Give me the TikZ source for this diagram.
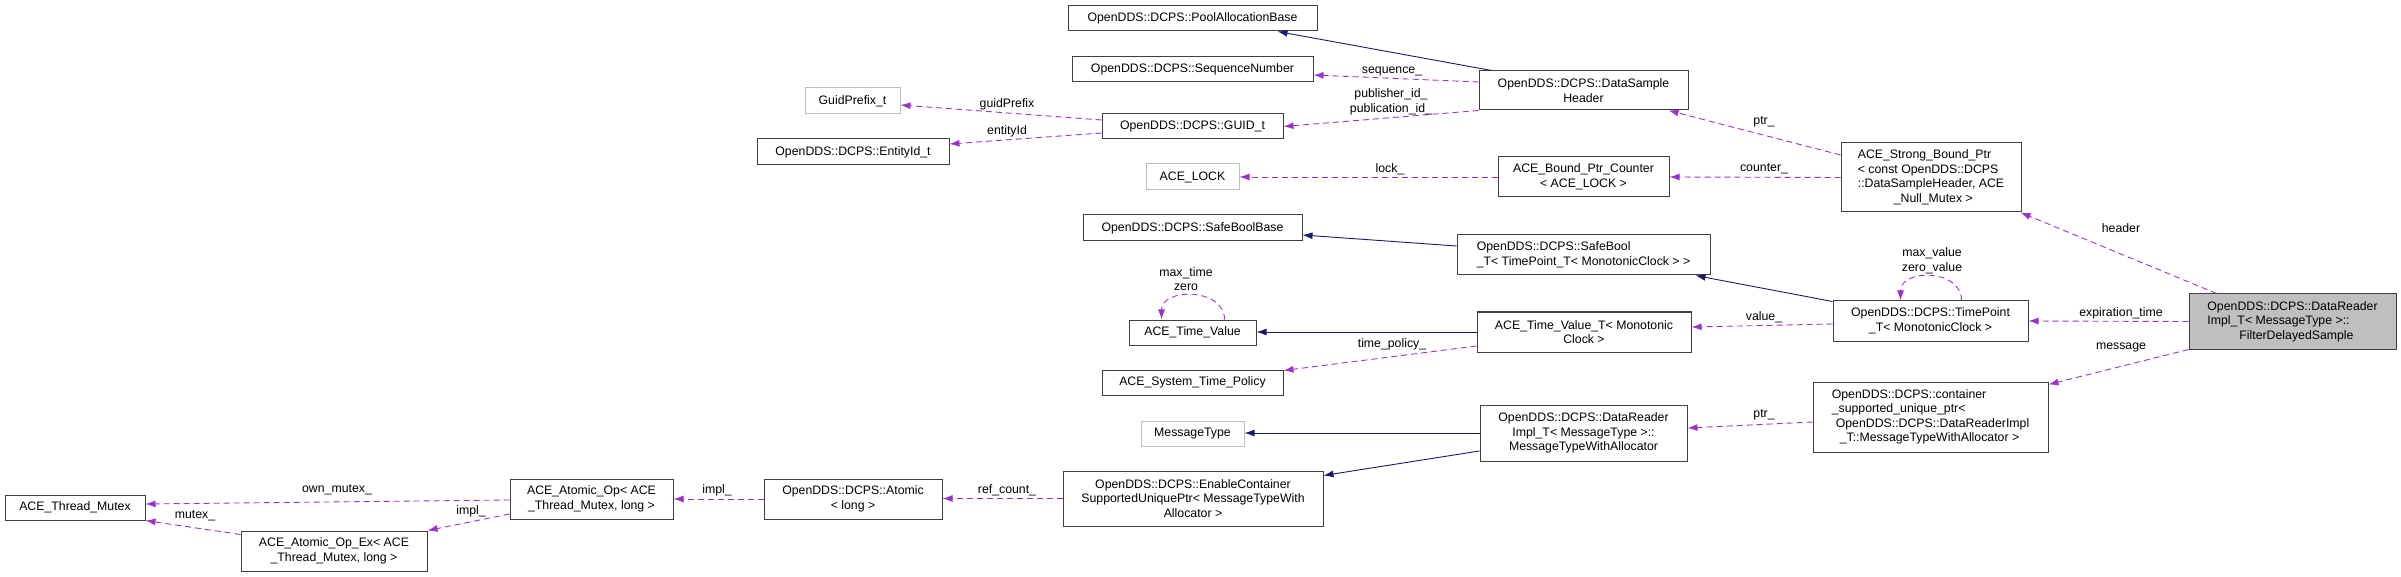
\documentclass[tikz,border=0pt]{standalone}
\usepackage{fontspec}
\setmainfont{Liberation Sans}
\usetikzlibrary{arrows.meta}
\definecolor{edgeP}{HTML}{9A32CD}
\definecolor{edgeN}{HTML}{191970}
\definecolor{bord}{HTML}{404040}
\definecolor{gbord}{HTML}{BFBFBF}
\begin{document}
\begin{tikzpicture}[x=1pt,y=-1pt,
  font=\fontsize{12.3}{14.5}\selectfont,
  box/.style={draw=bord,line width=1pt,inner sep=0pt,align=center,fill=white},
  gbox/.style={box,draw=gbord},
  lbl/.style={inner sep=0pt,align=center},
  inh/.style={draw=edgeN,line width=0.9pt,-{Latex[length=10pt,width=7pt]}},
  use/.style={draw=edgeP,line width=0.9pt,dash pattern=on 6pt off 4pt,-{Latex[length=10pt,width=7pt]}}]
\useasboundingbox (0,0) rectangle (2401,577);
\newcommand{\bx}[7][box]{\node[#1,minimum width=#4-#3,minimum height=#6-#5] (#2) at ({(#3+#4)/2},{(#5+#6)/2}) {#7};}
\bx{pool}{1068}{1317}{6}{31}{OpenDDS::DCPS::PoolAllocationBase}
\bx{seq}{1072}{1313}{57}{82}{OpenDDS::DCPS::SequenceNumber}
\bx[gbox]{guidp}{805}{900}{88}{114}{GuidPrefix\_t}
\bx{guid}{1102}{1283}{114}{139}{OpenDDS::DCPS::GUID\_t}
\bx{entity}{757}{949}{139}{165}{OpenDDS::DCPS::EntityId\_t}
\bx[gbox]{lock}{1146}{1239}{164}{190}{ACE\_LOCK}
\bx{sbb}{1083}{1302}{215}{241}{OpenDDS::DCPS::SafeBoolBase}
\bx{tv}{1129}{1256}{320}{345}{ACE\_Time\_Value}
\bx{stp}{1102}{1283}{370}{395}{ACE\_System\_Time\_Policy}
\bx[gbox]{mt}{1141}{1244}{421}{446}{MessageType}
\bx{tm}{5}{145}{495}{520}{ACE\_Thread\_Mutex}
\bx{aop}{510}{673}{479}{519}{ACE\_Atomic\_Op< ACE\\\_Thread\_Mutex, long >}
\bx{aopex}{241}{427}{531}{571}{ACE\_Atomic\_Op\_Ex< ACE\\\_Thread\_Mutex, long >}
\bx{atomic}{764}{942}{479}{519}{OpenDDS::DCPS::Atomic\\< long >}
\bx{ecs}{1063}{1323}{471}{526}{OpenDDS::DCPS::EnableContainer\\SupportedUniquePtr< MessageTypeWith\\Allocator >}
\bx{dsh}{1479}{1688}{71}{110}{OpenDDS::DCPS::DataSample\\Header}
\bx{bpc}{1498}{1669}{157}{197}{ACE\_Bound\_Ptr\_Counter\\< ACE\_LOCK >}
\bx[box,align=left]{sbt}{1457}{1710}{235}{275}{OpenDDS::DCPS::SafeBool\\\_T< TimePoint\_T< MonotonicClock > >}
\bx{tvt}{1477}{1691}{312}{352}{ACE\_Time\_Value\_T< Monotonic\\Clock >}
\bx{dri}{1480}{1687}{405}{461}{OpenDDS::DCPS::DataReader\\Impl\_T< MessageType >::\\MessageTypeWithAllocator}
\bx[box,align=left]{strong}{1841}{2021}{143}{212}{ACE\_Strong\_Bound\_Ptr\\< const OpenDDS::DCPS\\::DataSampleHeader, ACE\\\hspace*{36pt}\_Null\_Mutex >}
\bx{tp}{1833}{2028}{301}{341}{OpenDDS::DCPS::TimePoint\\\_T< MonotonicClock >}
\bx[box,align=left]{cont}{1813}{2048}{382}{452}{OpenDDS::DCPS::container\\\_supported\_unique\_ptr<\\\hspace*{4pt}OpenDDS::DCPS::DataReaderImpl\\\hspace*{8pt}\_T::MessageTypeWithAllocator >}
\bx[box,align=left,fill=gbord]{fds}{2189}{2396}{294}{349}{OpenDDS::DCPS::DataReader\\Impl\_T< MessageType >::\\\hspace*{32pt}FilterDelayedSample}
% inheritance
\draw[inh] ([xshift=13pt]dsh.north west) -- ([xshift=-40pt]pool.south east);
\draw[inh] ([yshift=9pt]sbt.west) -- ([yshift=-7pt]sbb.east);
\draw[inh] ([yshift=-1pt]tp.north west) -- ([xshift=-15pt]sbt.south east);
\draw[inh] (tvt.west) -- (tvt.west -| tv.east);
\draw[inh] (dri.west) -- (dri.west -| mt.east);
\draw[inh] ([yshift=-18pt]dri.west) -- ([yshift=-5pt]ecs.north east);
% usage
\draw[use] ([yshift=8.5pt]dsh.west) -- ([yshift=-5.5pt]seq.east);
\draw[use] (dsh.south west) -- (guid.east);
\draw[use] ([yshift=6.5pt]guid.west) -- ([yshift=-4pt]guidp.east);
\draw[use] ([yshift=-6.5pt]guid.west) -- ([yshift=8pt]entity.east);
\draw[use] ([yshift=22.5pt]strong.west) -- ([xshift=-20pt]dsh.south east);
\draw[use] (bpc.west) -- (bpc.west -| lock.east);
\draw[use] (strong.west) -- (bpc.east);
\draw[use] ([xshift=28pt]fds.north west) -- ([xshift=-1pt]strong.south east);
\draw[use] (fds.west) -- (tp.east);
\draw[use] (fds.south west) -- ([yshift=-3pt]cont.north east);
\draw[use] ([xshift=129pt]tp.north west) .. controls +(0,-32) and +(0,-32) .. ([xshift=68pt]tp.north west);
\draw[use] ([yshift=-3pt]tp.west) -- ([yshift=5pt]tvt.east);
\draw[use] ([yshift=-14pt]tvt.west) -- ([yshift=-1pt]stp.north east);
\draw[use] ([xshift=96pt]tv.north west) .. controls +(0,-32) and +(0,-32) .. ([xshift=33pt]tv.north west);
\draw[use] ([yshift=-5pt]cont.west) -- ([yshift=5pt]dri.east);
\draw[use] (ecs.west) -- (ecs.west -| atomic.east);
\draw[use] (atomic.west) -- (aop.east);
\draw[use] ([yshift=-1pt]aop.west) -- ([yshift=3.5pt]tm.east);
\draw[use] ([yshift=-15pt]aop.west) -- (aopex.north east);
\draw[use] ([yshift=-4pt]aopex.north west) -- (tm.south east);
% labels
\node[lbl] (l1) at (1392,71) {sequence\_};
\node[lbl] (l2) at (1391,102) {publisher\_id\_\\publication\_id\_};
\node[lbl] (l3) at (1007,104) {guidPrefix};
\node[lbl] (l4) at (1007,131) {entityId};
\node[lbl] (l5) at (1764,122) {ptr\_};
\node[lbl] (l6) at (1390,169) {lock\_};
\node[lbl] (l7) at (1764,169) {counter\_};
\node[lbl] (l8) at (2121,228) {header};
\node[lbl] (l9) at (2121,313) {expiration\_time};
\node[lbl] (l10) at (2121,347) {message};
\node[lbl] (l11) at (1932,261) {max\_value\\zero\_value};
\node[lbl] (l12) at (1764,317) {value\_};
\node[lbl] (l13) at (1392,344) {time\_policy\_};
\node[lbl] (l14) at (1186,279) {max\_time\\zero};
\node[lbl] (l15) at (1764,415) {ptr\_};
\node[lbl] (l16) at (1007,490) {ref\_count\_};
\node[lbl] (l17) at (717,490) {impl\_};
\node[lbl] (l18) at (337,490) {own\_mutex\_};
\node[lbl] (l19) at (471,511) {impl\_};
\node[lbl] (l20) at (195,516) {mutex\_};
\end{tikzpicture}
\end{document}
